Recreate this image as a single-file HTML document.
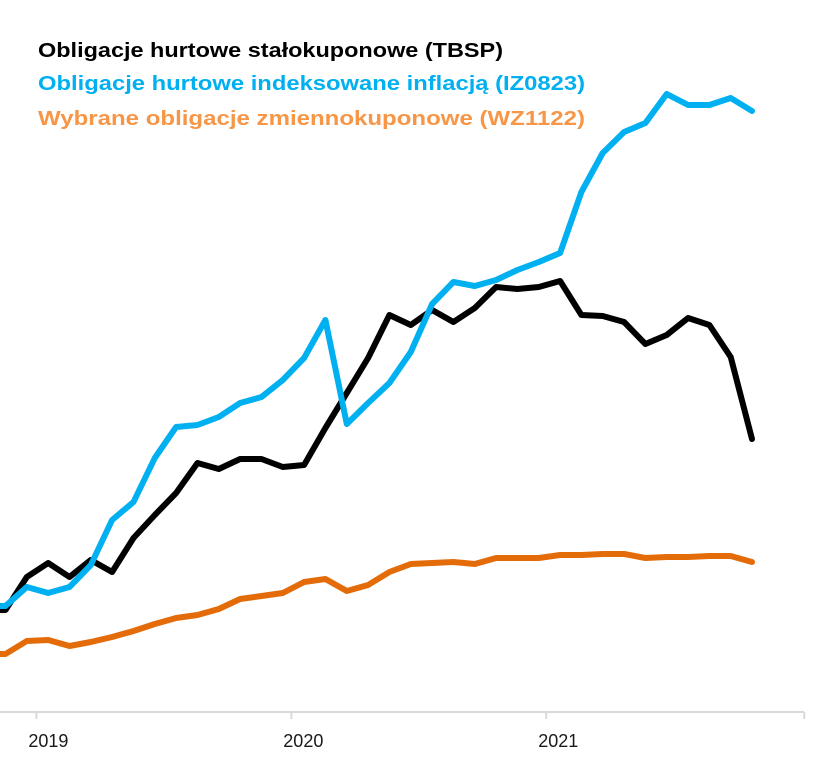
<!DOCTYPE html>
<html><head><meta charset="utf-8"><style>
html,body{margin:0;padding:0;background:#fff;}
svg{display:block;font-family:"Liberation Sans",sans-serif;}
</style></head><body>
<svg id="chart" width="828" height="765" viewBox="0 0 828 765">
  <g font-weight="bold" font-size="20">
    <text x="38" y="57" fill="#000" textLength="465" lengthAdjust="spacingAndGlyphs">Obligacje hurtowe stałokuponowe (TBSP)</text>
    <text x="38" y="90" fill="#00b0f0" textLength="547" lengthAdjust="spacingAndGlyphs">Obligacje hurtowe indeksowane inflacją (IZ0823)</text>
    <text x="38" y="125" fill="#f79646" textLength="547" lengthAdjust="spacingAndGlyphs">Wybrane obligacje zmiennokuponowe (WZ1122)</text>
  </g>
  <g id="axis"></g>
  <g id="series"></g>
</svg>
<script>
// Index values (arbitrary units, monthly, Nov 2018 .. Oct 2021)
const tbspValues = [102,135,149,135,152,140,174,197,219,249,243,253,253,245,247,284,319,354,397,387,402,390,404,425,423,425,431,397,396,390,368,377,394,387,355,273];
const izValues = [106,125,119,125,147,192,210,254,285,287,295,309,315,332,354,392,288,309,329,360,408,430,426,432,442,450,459,520,559,580,589,618,607,607,614,601];
const wzValues = [58,71,72,66,70,75,81,88,94,97,103,113,116,119,130,133,121,127,140,148,149,150,148,154,154,154,157,157,158,158,154,155,155,156,156,150];
const tickLabels = ["2019","2020","2021"];
const tickPositions = [1.45,13.4,25.35,37.45]; // year boundaries in month-index units

const NS="http://www.w3.org/2000/svg";
const x0=5.5, dx=21.33, yBase=712;
function xScale(i){return x0+i*dx;}
function yScale(v){return yBase-v;}

const axis=document.getElementById('axis');
const line=document.createElementNS(NS,'line');


line.setAttribute('x1',0);line.setAttribute('x2',xScale(tickPositions[3]));
line.setAttribute('y1',yBase);line.setAttribute('y2',yBase);
line.setAttribute('stroke','#d9d9d9');line.setAttribute('stroke-width','2');
axis.appendChild(line);
tickPositions.forEach((t,i)=>{
  const tk=document.createElementNS(NS,'line');
  
  
  const x=xScale(t);
  tk.setAttribute('x1',x);tk.setAttribute('x2',x);
  tk.setAttribute('y1',yBase);tk.setAttribute('y2',yBase+7);
  tk.setAttribute('stroke','#d9d9d9');tk.setAttribute('stroke-width','2');
  axis.appendChild(tk);
  if(i<tickLabels.length){
    const tx=document.createElementNS(NS,'text');
    
    
    tx.setAttribute('x',x+12);tx.setAttribute('y',747);
    tx.setAttribute('text-anchor','middle');tx.setAttribute('font-size','18');
    tx.setAttribute('fill','#1a1a1a');
    tx.textContent=tickLabels[i];
    axis.appendChild(tx);
  }
});

const series=document.getElementById('series');
function drawLine(vals,color,name){
  const p=document.createElementNS(NS,'polyline');
  
  
  const pts=[[0,yScale(vals[0])]].concat(vals.map((v,i)=>[xScale(i),yScale(v)]));
  p.setAttribute('points',pts.map(a=>a[0].toFixed(1)+','+a[1].toFixed(1)).join(' '));
  p.setAttribute('fill','none');p.setAttribute('stroke',color);
  p.setAttribute('stroke-width','6');p.setAttribute('stroke-linejoin','round');p.setAttribute('stroke-linecap','round');
  series.appendChild(p);
}
drawLine(wzValues,'#e36c09','line-wz1122');
drawLine(tbspValues,'#000000','line-tbsp');
drawLine(izValues,'#00b0f0','line-iz0823');
</script>
</body></html>
